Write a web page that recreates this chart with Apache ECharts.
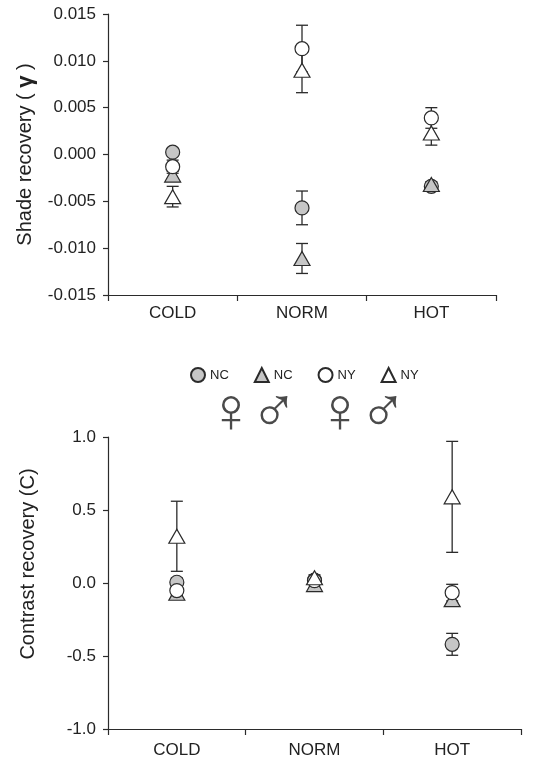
<!DOCTYPE html>
<html><head><meta charset="utf-8">
<script src="https://cdn.jsdelivr.net/npm/echarts@6/dist/echarts.min.js"></script>
<style>html,body{margin:0;padding:0;background:#fff}#c{width:552px;height:763px}</style>
</head><body><div id="c"></div>
<script>
// ---- data ----
const categories = ['COLD', 'NORM', 'HOT'];
const seriesNames = ['NC \u2640', 'NC \u2642', 'NY \u2640', 'NY \u2642'];

// Shade recovery (gamma)
const shadeNCf = [0.00025, -0.0057, -0.0034];
const shadeNCfErr = [0.0004, 0.0018, 0.0003];
const shadeNCm = [-0.0022, -0.0111, -0.0032];
const shadeNCmErr = [0.0004, 0.0016, 0.0003];
const shadeNYf = [-0.0013, 0.0113, 0.0039];
const shadeNYfErr = [0.0007, 0.0025, 0.0011];
const shadeNYm = [-0.0045, 0.0090, 0.0023];
const shadeNYmErr = [0.0011, 0.0024, 0.0013];

// Contrast recovery (C)
const conNCf = [0.005, 0.02, -0.42];
const conNCfErr = [0.03, 0.02, 0.075];
const conNCm = [-0.07, -0.011, -0.114];
const conNCmErr = [0.02, 0.02, 0.02];
const conNYf = [-0.052, 0.016, -0.066];
const conNYfErr = [0.03, 0.02, 0.057];
const conNYm = [0.32, 0.036, 0.59];
const conNYmErr = [0.24, 0.02, 0.38];

const shadeTicks = [-0.015, 0.015, 0.005];
const conTicks = [-1, 1, 0.5];

// ---- styles ----
const FONT = "'Liberation Sans', Arial, sans-serif";
const INK = '#2b2b2b';
const GREY = '#c6c6c6';
const symbols = ['circle', 'triangle', 'circle', 'triangle'];
const fills = [GREY, GREY, '#ffffff', '#ffffff'];
const sizes = [14, [16, 14], 14, [16, 14]];

const shadeVals = [shadeNCf, shadeNCm, shadeNYf, shadeNYm];
const shadeErrs = [shadeNCfErr, shadeNCmErr, shadeNYfErr, shadeNYmErr];
const conVals = [conNCf, conNCm, conNYf, conNYm];
const conErrs = [conNCfErr, conNCmErr, conNYfErr, conNYmErr];

function errSeries(vals, errs, idx) {
  const data = [];
  vals.forEach((arr, s) => arr.forEach((v, i) => data.push([i, v, errs[s][i]])));
  return {
    type: 'custom', xAxisIndex: idx, yAxisIndex: idx, z: 1, silent: true,
    data: data,
    encode: { x: 0, y: 1 },
    renderItem: function (params, api) {
      const x = api.value(0), v = api.value(1), e = api.value(2);
      const hi = api.coord([x, v + e]);
      const lo = api.coord([x, v - e]);
      const w = 6;
      const st = { stroke: INK, lineWidth: 1.3 };
      return { type: 'group', children: [
        { type: 'line', shape: { x1: hi[0], y1: hi[1], x2: lo[0], y2: lo[1] }, style: st },
        { type: 'line', shape: { x1: hi[0] - w, y1: hi[1], x2: hi[0] + w, y2: hi[1] }, style: st },
        { type: 'line', shape: { x1: lo[0] - w, y1: lo[1], x2: lo[0] + w, y2: lo[1] }, style: st }
      ]};
    }
  };
}
function scatterSeries(vals, idx) {
  return vals.map((arr, s) => ({
    name: seriesNames[s], type: 'scatter', xAxisIndex: idx, yAxisIndex: idx, z: 2 + s,
    symbol: symbols[s], symbolSize: sizes[s],
    itemStyle: { color: fills[s], borderColor: INK, borderWidth: 1.2, opacity: 1 },
    data: arr
  }));
}

function xAx(idx) {
  return {
    type: 'category', gridIndex: idx, data: categories,
    axisLine: { onZero: false, lineStyle: { color: INK, width: 1.2 } },
    axisTick: { show: true, alignWithLabel: false, length: 6, lineStyle: { color: INK, width: 1.2 } },
    axisLabel: { color: '#222', fontFamily: FONT, fontSize: 17, margin: idx === 0 ? 10 : 13 },
    splitLine: { show: false }
  };
}
function yAx(idx, t, name, dec, extra) {
  return Object.assign({
    type: 'value', gridIndex: idx, min: t[0], max: t[1], interval: t[2],
    name: name, nameLocation: 'middle', nameGap: 70,
    nameTextStyle: { color: '#222', fontFamily: FONT, fontSize: 20 },
    axisLine: { show: true, lineStyle: { color: INK, width: 1.2 } },
    axisTick: { show: true, length: 5, lineStyle: { color: INK, width: 1.2 } },
    axisLabel: { color: '#222', fontFamily: FONT, fontSize: 17, margin: 12,
      formatter: v => v.toFixed(dec) },
    splitLine: { show: false }
  }, extra || {});
}

const chart = echarts.init(document.getElementById('c'), null, { renderer: 'canvas' });
const genderXs = [231, 274, 340, 383];
const genderChars = ['\u2640', '\u2642', '\u2640', '\u2642'];
chart.setOption({
  animation: false,
  backgroundColor: '#fff',
  grid: [
    { left: 108, top: 14, width: 388, height: 281 },
    { left: 108, top: 437, width: 413, height: 292 }
  ],
  xAxis: [xAx(0), xAx(1)],
  yAxis: [
    yAx(0, shadeTicks, 'Shade recovery ( {g|\u03B3} )', 3, {
      nameTextStyle: { color: '#222', fontFamily: FONT, fontSize: 20,
        rich: { g: { fontFamily: FONT, fontSize: 22, fontWeight: 'bold', color: '#222' } } }
    }),
    yAx(1, conTicks, 'Contrast recovery (C)', 1, {
      nameTextStyle: { color: '#222', fontFamily: FONT, fontSize: 20, padding: [0, 0, 0, 38] }
    })
  ],
  legend: {
    data: seriesNames, left: 185, top: 362, orient: 'horizontal',
    itemWidth: 14, itemHeight: 14, itemGap: 25, selectedMode: false,
    formatter: n => n.split(' ')[0],
    textStyle: { color: '#222', fontFamily: FONT, fontSize: 13 }
  },
  graphic: genderXs.map((x, i) => ({
    type: 'text', x: x, y: 415,
    style: { text: genderChars[i], fill: '#4a4a4a', fontSize: 64, fontWeight: 100,
      fontFamily: "'DejaVu Sans ExtraLight', 'DejaVu Sans'", align: 'center', verticalAlign: 'middle' }
  })),
  series: [
    errSeries(shadeVals, shadeErrs, 0),
    errSeries(conVals, conErrs, 1)
  ].concat(scatterSeries(shadeVals, 0), scatterSeries(conVals, 1))
});
</script></body></html>
